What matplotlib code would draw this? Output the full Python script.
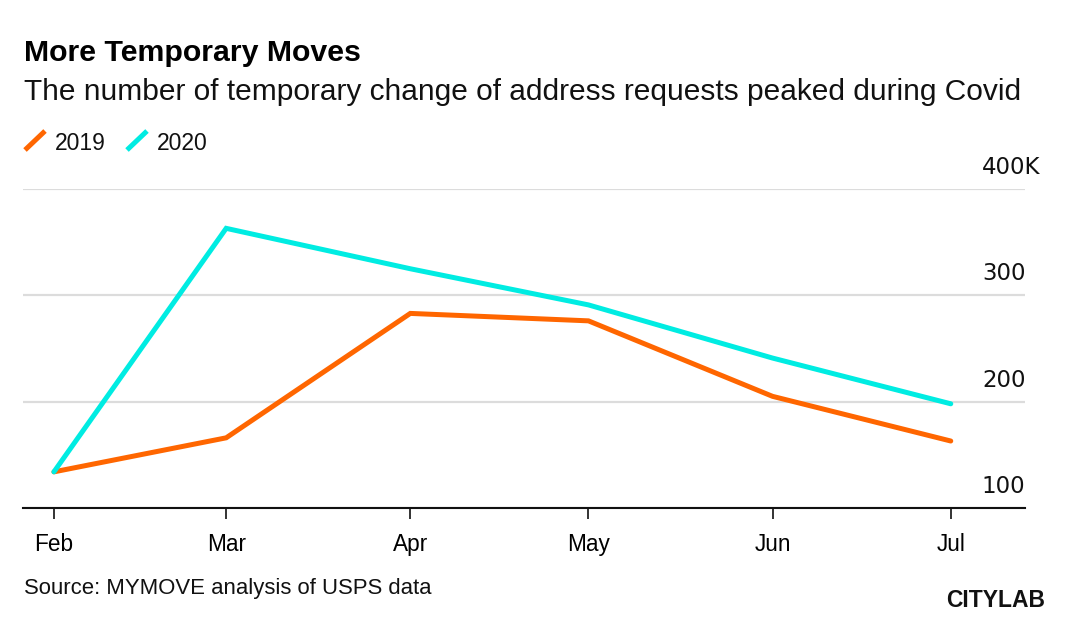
import datetime as dt
import matplotlib
matplotlib.use("Agg")
import matplotlib.pyplot as plt
import matplotlib.transforms as mtransforms
from matplotlib.lines import Line2D

plt.rcParams['font.family'] = ['Liberation Sans', 'DejaVu Sans']

months = ["Feb", "Mar", "Apr", "May", "Jun", "Jul"]
dates = [dt.datetime(2020, m, 1) for m in range(2, 8)]
moves_2019 = [134, 166, 283, 276, 205, 163]
moves_2020 = [134, 363, 325, 291, 241, 198]
y_ticks = [100, 200, 300, 400]
y_labels = ["100", "200", "300", "400K"]

ORANGE = "#ff6600"
CYAN = "#00ece2"

fig = plt.figure(figsize=(10.8, 6.2), dpi=100)
ax = fig.add_axes([23 / 1080, 112 / 620, 1002 / 1080, 319 / 620])

ax.plot(dates, moves_2019, color=ORANGE, lw=3.6, solid_capstyle="round", solid_joinstyle="miter", zorder=3)
ax.plot(dates, moves_2020, color=CYAN, lw=3.6, solid_capstyle="round", solid_joinstyle="miter", zorder=3)

ax.set_xlim(dt.datetime(2020, 1, 26, 19), dt.datetime(2020, 7, 13, 12))
ax.set_ylim(100, 400)

for s in ["left", "right", "top"]:
    ax.spines[s].set_visible(False)
ax.spines["bottom"].set_linewidth(1.5)
ax.spines["bottom"].set_color("#111111")

ax.set_xticks(dates)
ax.set_xticklabels(months, fontsize=16.3)
ax.tick_params(axis="x", length=8, width=1.2, color="#111111", pad=10)

ax.set_yticks(y_ticks)
ax.set_yticklabels([])
ax.tick_params(axis="y", length=0)
ax.grid(axis="y", color="#dcdcdc", lw=1.6)
ax.set_axisbelow(True)

trans = mtransforms.blended_transform_factory(ax.transAxes, ax.transData)
off = mtransforms.offset_copy(trans, fig=fig, x=0, y=15, units="dots")
for v, lab in zip(y_ticks, y_labels):
    ax.text(0.957, v, lab, transform=off, ha="left", va="baseline", fontsize=16.5,
            family="DejaVu Sans", color="#111111")

fig.text(24 / 1080, 1 - 53 / 620, "More Temporary Moves", fontsize=21.8, fontweight="bold",
         va="center", ha="left", color="#000000")
fig.text(24 / 1080, 1 - 100 / 620,
         "The number of temporary change of address requests peaked during Covid",
         fontsize=21.5, va="baseline", ha="left", color="#111111")

# legend
for x0, col, lab in [(25, ORANGE, "2019"), (127, CYAN, "2020")]:
    fig.add_artist(Line2D([x0 / 1080, (x0 + 20) / 1080], [1 - 150 / 620, 1 - 131 / 620],
                          color=col, lw=3.6, solid_capstyle="butt"))
    fig.text((x0 + 30) / 1080, 1 - 150 / 620, lab, fontsize=16.5, va="baseline", ha="left",
             color="#111111")

fig.text(24 / 1080, 1 - 594 / 620, "Source: MYMOVE analysis of USPS data", fontsize=15.9,
         va="baseline", ha="left", color="#111111")
fig.text(1045 / 1080, 1 - 607 / 620, "CITYLAB", fontsize=16.5, fontweight="heavy",
         va="baseline", ha="right", color="#111111")

fig.savefig("out.png", dpi=100, facecolor="white")
